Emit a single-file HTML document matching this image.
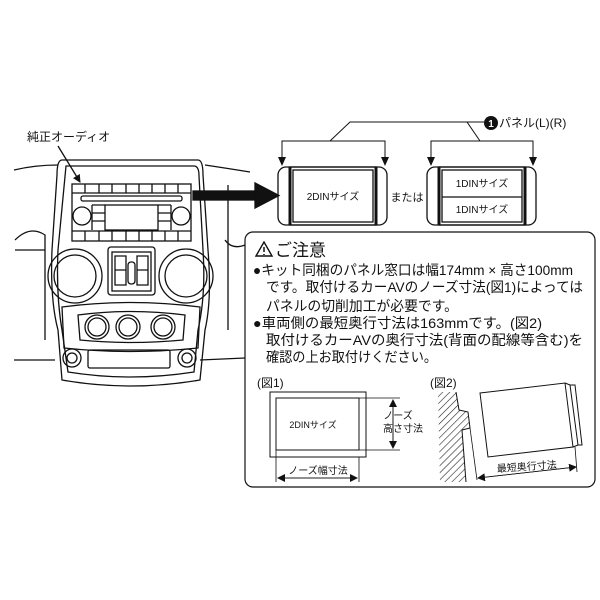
<!DOCTYPE html>
<html><head><meta charset="utf-8"><style>
html,body{margin:0;padding:0;background:#fff;}
svg{display:block;font-family:"Liberation Sans","Noto Sans CJK JP",sans-serif;}
</style></head><body>
<svg width="600" height="600" viewBox="0 0 600 600" xmlns="http://www.w3.org/2000/svg">
<defs>
<pattern id="h" width="5" height="5" patternUnits="userSpaceOnUse" patternTransform="rotate(45)"><line x1="0" y1="0" x2="0" y2="5" stroke="#222" stroke-width="1.2"/></pattern>
<marker id="ar" markerWidth="8" markerHeight="8" refX="7" refY="4" orient="auto" markerUnits="userSpaceOnUse"><path d="M0,0 L8,4 L0,8z" fill="#111"/></marker>
</defs>
<g fill="none" stroke="#111" stroke-width="1.3">
<text x="27" y="141" font-size="12" fill="#111" stroke="none">純正オーディオ</text>
<path d="M58,146 L80,182" marker-end="url(#ar)"/>
<path d="M14,170 Q35,165 58,165 M205,165 Q225,168 250,172"/>
<path d="M15,240 Q30,225 45,235 L45,340 M15,250 L45,250"/>
<path d="M14,360 L55,360 M200,360 L245,358"/>
<path d="M228,185 L228,330 M225,240 Q232,250 245,245"/>
<path d="M62,160 Q57,160 57,175 L52,250 Q50,300 58,330 L62,380 Q130,392 200,380 L205,330 Q212,300 208,250 L203,175 Q203,160 198,160 Z"/>
<path d="M66,166 L194,166 Q199,166 199,176 L203,250 Q206,295 198,330 L194,372 Q130,382 68,372 L62,330 Q56,295 58,250 Z"/>
<rect x="72" y="184" width="119" height="57"/>
<path d="M72,193 H191 M72,231 H191 M85,184 V193 M99,184 V193 M112,184 V193 M126,184 V193 M139,184 V193 M152,184 V193 M165,184 V193 M178,184 V193 M85,231 V241 M99,231 V241 M112,231 V241 M126,231 V241 M139,231 V241 M152,231 V241 M165,231 V241 M178,231 V241"/>
<rect x="81" y="196" width="101" height="5" rx="2"/>
<rect x="105" y="205" width="53" height="25"/>
<path d="M92,205 H105 M92,213 H105 M92,221 H105 M158,205 H171 M158,213 H171 M158,221 H171 M92,205 V230 M171,205 V230"/>
<circle cx="82" cy="216" r="9"/><circle cx="181" cy="216" r="9"/>
<circle cx="75" cy="276" r="27"/><circle cx="75" cy="276" r="21"/>
<circle cx="186" cy="276" r="27"/><circle cx="186" cy="276" r="21"/>
<rect x="108" y="247" width="47" height="48" rx="3"/>
<rect x="112" y="252" width="39" height="39"/>
<path d="M115,256 H126 V285 H115 Z M137,256 H148 V285 H137 Z M115,270 H126 M137,270 H148"/>
<rect x="128" y="262" width="7" height="22" rx="3"/>
<path d="M62,307 Q130,298 200,307 L198,348 Q130,355 64,348 Z"/>
<path d="M78,315 Q130,308 185,315 L183,340 Q130,345 80,340 Z"/>
<circle cx="97" cy="327" r="12"/><circle cx="97" cy="327" r="9"/>
<circle cx="128" cy="327" r="12"/><circle cx="128" cy="327" r="9"/>
<circle cx="163" cy="327" r="12"/><circle cx="163" cy="327" r="9"/>
<circle cx="72" cy="358" r="9"/><circle cx="72" cy="358" r="5"/>
<circle cx="187" cy="358" r="9"/><circle cx="187" cy="358" r="5"/>
<rect x="88" y="350" width="82" height="18" rx="2"/>
<rect x="193" y="191" width="62" height="9" fill="#111"/>
<path d="M255,183 L279,195.5 L255,208 Z" fill="#111"/>
<rect x="278" y="167" width="109" height="58" rx="8"/>
<rect x="290" y="167" width="86" height="58"/>
<rect x="293" y="170" width="80" height="52"/>
<path d="M290,167 V225 M376,167 V225" stroke-width="3"/>
<text x="333" y="200" font-size="10" fill="#111" stroke="none" text-anchor="middle">2DINサイズ</text>
<text x="407" y="201" font-size="11" fill="#111" stroke="none" text-anchor="middle">または</text>
<rect x="427" y="167" width="109" height="58" rx="8"/>
<rect x="439" y="167" width="86" height="58"/>
<rect x="442" y="170" width="80" height="52"/>
<path d="M439,167 V225 M525,167 V225" stroke-width="3"/>
<path d="M442,197 H522"/>
<text x="482" y="187" font-size="10" fill="#111" stroke="none" text-anchor="middle">1DINサイズ</text>
<text x="482" y="213" font-size="10" fill="#111" stroke="none" text-anchor="middle">1DINサイズ</text>
<path d="M282,163 V141 H385 V163 M330,141 L350,122 H467 L480,141 M431,163 V141 H533 V163" stroke-width="1"/>
<path d="M278,157 L286,157 L282,166Z M381,157 L389,157 L385,166Z M427,157 L435,157 L431,166Z M529,157 L537,157 L533,166Z" fill="#111" stroke="none"/>
<path d="M467,122 H484" stroke-width="1"/>
<circle cx="491" cy="123" r="7" fill="#111" stroke="none"/>
<text x="491" y="127" font-size="10" fill="#fff" stroke="none" text-anchor="middle" font-weight="bold">1</text>
<text x="499" y="127" font-size="12" fill="#111" stroke="none">パネル(L)(R)</text>
<rect x="245" y="232" width="350" height="255" rx="8" stroke-width="1.2"/>
<path d="M256,256 L264,242 L272,256 Z" stroke-width="1.4"/>
<path d="M264,247 V252 M264,254 V255" stroke-width="1.5"/>
<g fill="#111" stroke="none" font-size="14">
<text x="275" y="256" font-size="17">ご注意</text>
<text x="253" y="275" textLength="320" lengthAdjust="spacingAndGlyphs">●キット同梱のパネル窓口は幅174mm × 高さ100mm</text>
<text x="266" y="292" textLength="317" lengthAdjust="spacingAndGlyphs">です。取付けるカーAVのノーズ寸法(図1)によっては</text>
<text x="266" y="311" textLength="192" lengthAdjust="spacingAndGlyphs">パネルの切削加工が必要です。</text>
<text x="253" y="328" textLength="289" lengthAdjust="spacingAndGlyphs">●車両側の最短奥行寸法は163mmです。(図2)</text>
<text x="266" y="345" textLength="317" lengthAdjust="spacingAndGlyphs">取付けるカーAVの奥行寸法(背面の配線等含む)を</text>
<text x="266" y="362" textLength="171" lengthAdjust="spacingAndGlyphs">確認の上お取付けください。</text>
<text x="257" y="387" font-size="12">(図1)</text>
<text x="430" y="387" font-size="12">(図2)</text>
<text x="313" y="428" font-size="9" text-anchor="middle">2DINサイズ</text>
<text x="398" y="419" font-size="10" text-anchor="middle">ノーズ</text>
<text x="403" y="432" font-size="10" text-anchor="middle">高さ寸法</text>
<text x="318" y="474" font-size="10" text-anchor="middle">ノーズ幅寸法</text>
<text x="527" y="470" font-size="10" text-anchor="middle" transform="rotate(-4 527 470)">最短奥行寸法</text>
</g>
<rect x="270" y="392" width="96" height="65" stroke-width="1"/>
<rect x="276" y="398" width="83" height="52" stroke-width="1"/>
<path d="M359,398 H400 M359,450 H400 M276,450 V482 M359,457 V482" stroke-width="0.8"/>
<path d="M393,448 V400" stroke-width="0.8" marker-end="url(#ar)"/>
<path d="M393,400 V448" stroke-width="0.8" marker-end="url(#ar)"/>
<path d="M278,478 H357" stroke-width="0.8" marker-end="url(#ar)"/>
<path d="M357,478 H278" stroke-width="0.8" marker-end="url(#ar)"/>
<path d="M438,392 L456,392 L459,410 L468,412 L470,428 L462,430 L466,482 L440,482 Z" fill="url(#h)" stroke="none"/>
<path d="M456,392 L459,410 L468,412 L470,428 L462,430 L466,482" stroke-width="1"/>
<path d="M470,428 L477,480" stroke-width="0.8"/>
<path d="M480,393 L565,383 L573,447 L488,457 Z" stroke-width="1"/>
<path d="M565,383 L570,385 L578,445 L573,447 M570,385 L575,385 L582,445 L578,445" stroke-width="1"/>
<path d="M575,447 L577,472" stroke-width="0.8"/>
<path d="M478,478 L576,467" stroke-width="0.8" marker-end="url(#ar)"/>
<path d="M576,467 L478,478" stroke-width="0.8" marker-end="url(#ar)"/>
</g>
</svg>
</body></html>
